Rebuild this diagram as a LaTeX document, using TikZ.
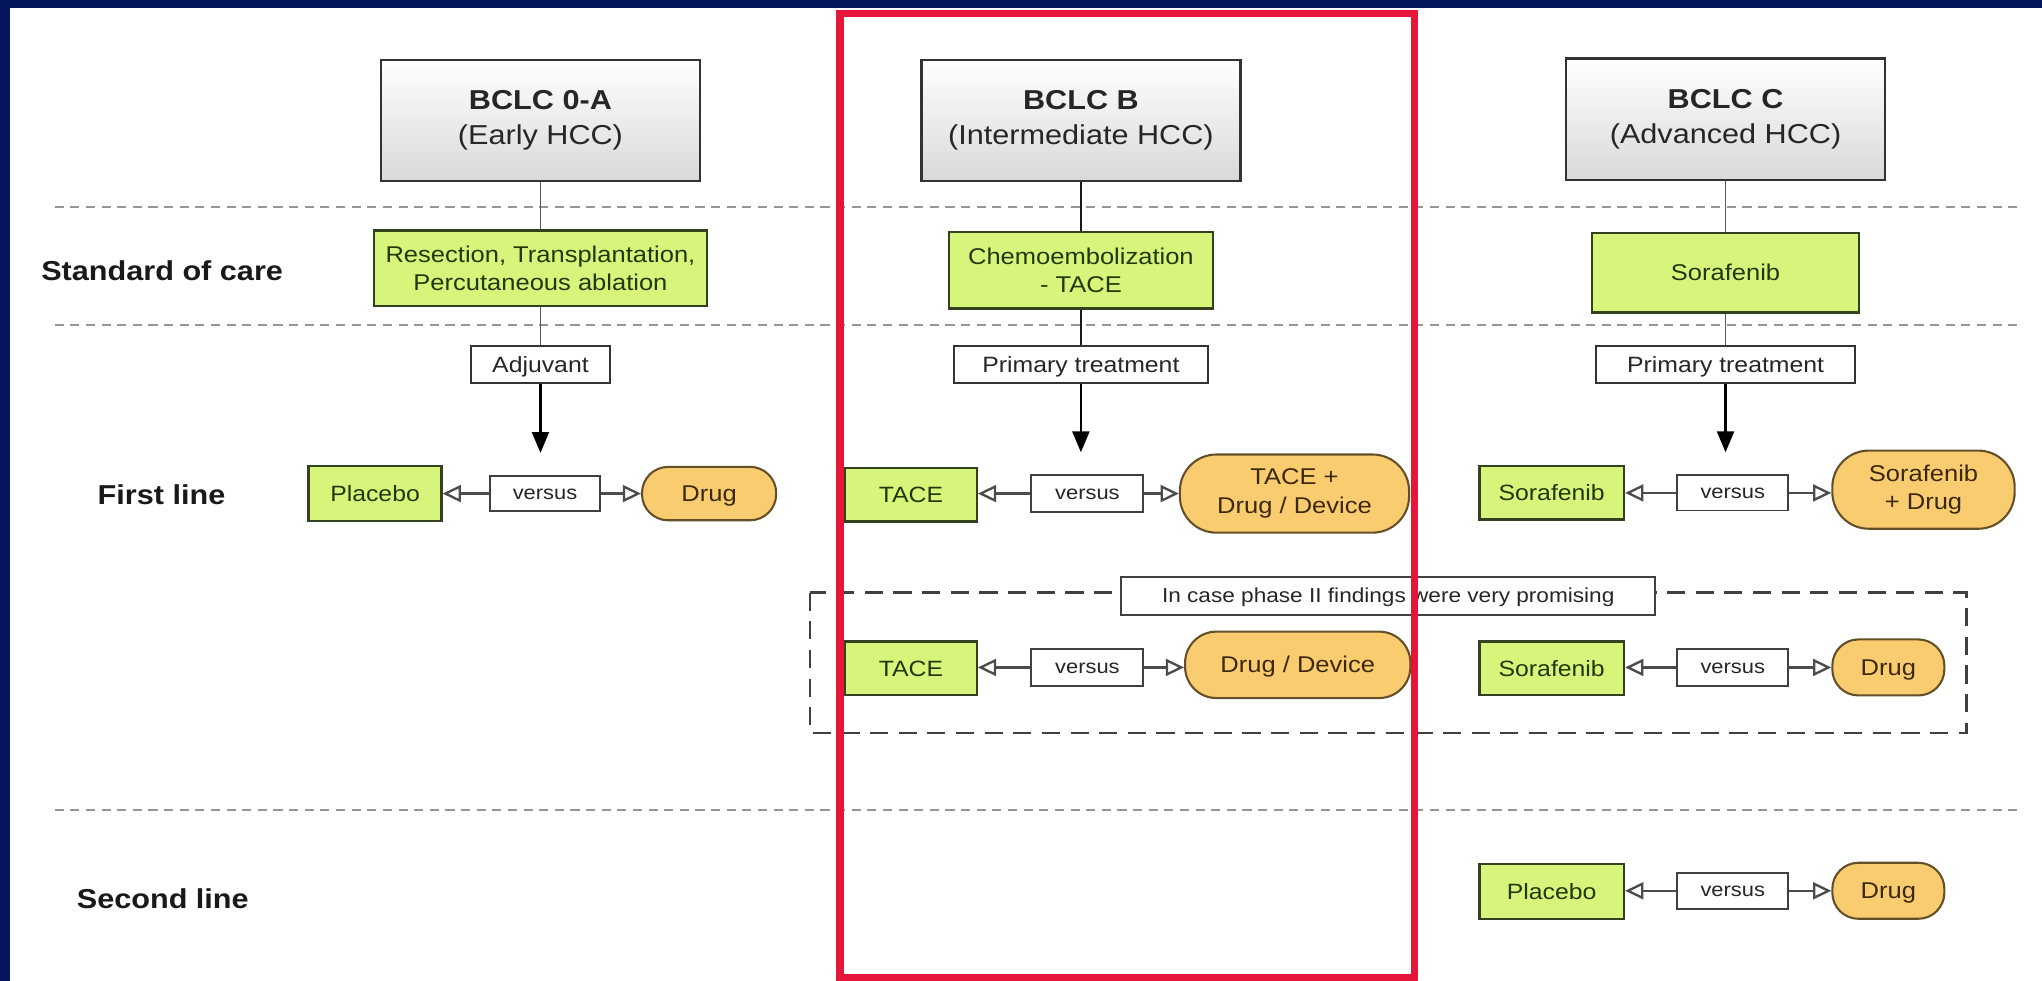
\documentclass[tikz,border=0pt]{standalone}
\usepackage{fontspec}
\setmainfont{Liberation Sans}[FakeStretch=1.12]
\usetikzlibrary{arrows.meta}
\definecolor{navy}{RGB}{5,22,95}
\definecolor{redframe}{RGB}{230,22,58}
\definecolor{limefill}{RGB}{214,245,122}
\definecolor{limedraw}{RGB}{50,65,30}
\definecolor{limetext}{RGB}{35,55,10}
\definecolor{orgfill}{RGB}{250,204,112}
\definecolor{orgdraw}{RGB}{100,80,40}
\definecolor{orgtext}{RGB}{60,40,10}
\definecolor{dashgray}{RGB}{150,150,150}
\begin{document}
\begin{tikzpicture}[x=1pt,y=-1pt,
  hdr/.style={draw=black!80, line width=1.8pt, top color=white, bottom color=black!15,
    minimum width=245pt, minimum height=93pt, inner sep=0pt, align=center,
    text=black!85, font=\fontsize{21}{27}\selectfont},
  soc/.style={draw=limedraw, fill=limefill, line width=1.8pt, inner sep=0pt, align=center,
    text=limetext, font=\fontsize{17.5}{22}\selectfont},
  one/.style={text height=12.3pt, text depth=0pt},
  lbl/.style={draw=black!80, fill=white, line width=1.5pt, minimum height=28pt, inner sep=0pt,
    text=black!85, font=\fontsize{17}{20}\selectfont, one},
  rowlbl/.style={font=\bfseries\fontsize{21}{25}\selectfont, text=black!90},
  grn/.style={draw=limedraw, fill=limefill, line width=1.8pt, inner sep=0pt,
    minimum height=41pt, text=limetext, font=\fontsize{17}{21}\selectfont, one},
  org/.style={draw=orgdraw, fill=orgfill, line width=1.6pt, inner sep=0pt, align=center,
    text=orgtext, font=\fontsize{17.5}{22}\selectfont},
  vs/.style={draw=black!75, fill=white, line width=1.5pt, inner sep=0pt, minimum width=85pt,
    minimum height=27pt, text=black!85, font=\fontsize{15}{18}\selectfont, text height=9pt, text depth=0pt},
  vsarrow/.style={draw=black!70, line width=1.8pt, -{Triangle[open,length=14pt,width=13pt]}},
  downarrow/.style={draw=black, line width=1.8pt, -{Triangle[length=16pt,width=13pt]}, shorten >=17pt},
  vline/.style={draw=black!65, line width=1.4pt},
  hdash/.style={draw=dashgray, line width=2pt, dash pattern=on 7pt off 5pt},
  boxdash/.style={draw=black!75, line width=1.8pt, dash pattern=on 14pt off 8pt}
]
\useasboundingbox (0,0) rectangle (1568,753);
\fill[white] (0,0) rectangle (1568,753);
\fill[navy] (0,0) rectangle (1568,6);
\fill[navy] (0,0) rectangle (8,753);

% horizontal dashed separators
\draw[hdash] (42,159) -- (1550,159);
\draw[hdash] (42,249.5) -- (1550,249.5);
\draw[hdash] (42,622) -- (1550,622);

% row labels
\node[rowlbl] (rSOC) at (124.5,208) {Standard of care};
\node[rowlbl] (rFL) at (124,380) {First line};
\node[rowlbl] (rSL) at (125,690) {Second line};

% headers
\node[hdr] (hA) at (415,92.5) {\textbf{BCLC 0-A}\\(Early HCC)};
\node[hdr] (hB) at (830,92.5) {\textbf{BCLC B}\\(Intermediate HCC)};
\node[hdr] (hC) at (1325,91.5) {\textbf{BCLC C}\\(Advanced HCC)};

% standard of care
\node[soc, minimum width=256pt, minimum height=58pt] (sA) at (415,206) {Resection, Transplantation,\\Percutaneous ablation};
\node[soc, minimum width=203pt, minimum height=59pt] (sB) at (830,207.5) {Chemoembolization\\- TACE};
\node[soc, one, minimum width=205pt, minimum height=61pt] (sC) at (1325,209.5) {Sorafenib};

% treatment labels
\node[lbl, minimum width=107pt] (lA) at (415,280) {Adjuvant};
\node[lbl, minimum width=195pt] (lB) at (830,280) {Primary treatment};
\node[lbl, minimum width=199pt] (lC) at (1325,280) {Primary treatment};

% vertical connectors
\draw[vline] (hA.south) -- (sA.north);
\draw[vline] (sA.south) -- (lA.north);
\draw[vline, draw=black!90] (hB.south) -- (sB.north);
\draw[vline, draw=black!90] (sB.south) -- (lB.north);
\draw[vline] (hC.south) -- (sC.north);
\draw[vline] (sC.south) -- (lC.north);

% first line, column A
\node[grn, minimum width=102pt, minimum height=42pt] (pA) at (288,379) {Placebo};
\node[vs] (vA) at (418.5,379) {versus};
\node[org, one, minimum width=103pt, minimum height=41pt, rounded corners=20pt] (dA) at (544.5,379) {Drug};

% first line, column B
\node[grn, minimum width=101pt] (tB) at (699.5,380) {TACE};
\node[vs, minimum width=86pt, minimum height=28pt] (vB) at (835,379) {versus};
\node[org, minimum width=176pt, minimum height=60pt, rounded corners=28pt] (dB) at (994,379) {TACE +\\Drug / Device};

% first line, column C
\node[grn, minimum width=111pt] (sfC) at (1191.5,378.5) {Sorafenib};
\node[vs] (vC) at (1330.5,378.5) {versus};
\node[org, minimum width=140pt, minimum height=60pt, rounded corners=28pt] (dC) at (1477,376) {Sorafenib\\+ Drug};

% down arrows
\draw[downarrow] (lA.south) -- (lA.south |- vA.north);
\draw[downarrow] (lB.south) -- (lB.south |- vB.north);
\draw[downarrow] (lC.south) -- (lC.south |- vC.north);

% versus connectors, first line
\draw[vsarrow] (vA.west) -- (vA.west -| pA.east);
\draw[vsarrow] (vA.east) -- (vA.east -| dA.west);
\draw[vsarrow] (vB.west) -- (vB.west -| tB.east);
\draw[vsarrow] (vB.east) -- (vB.east -| dB.west);
\draw[vsarrow] (vC.west) -- (vC.west -| sfC.east);
\draw[vsarrow] (vC.east) -- (vC.east -| dC.west);

% dashed box (phase II)
\draw[boxdash] (622,455) rectangle (1510,563);
\node[draw=black!75, fill=white, line width=1.5pt, minimum width=410pt, minimum height=29pt, inner sep=0pt,
  text=black!85, font=\fontsize{15.5}{18}\selectfont, text height=11pt, text depth=1pt] (ph) at (1066,457.5) {In case phase II findings were very promising};

\node[grn, minimum width=101pt] (tB2) at (699.5,513) {TACE};
\node[vs, minimum width=86pt, minimum height=29pt] (vB2) at (835,512.5) {versus};
\node[org, one, minimum width=173pt, minimum height=51pt, rounded corners=24pt] (dB2) at (996.5,510.5) {Drug / Device};

\node[grn, minimum width=111pt] (sfC2) at (1191.5,513) {Sorafenib};
\node[vs, minimum height=28pt] (vC2) at (1330.5,512.5) {versus};
\node[org, one, minimum width=86pt, minimum height=43pt, rounded corners=20pt] (dC2) at (1450,512.5) {Drug};

\draw[vsarrow] (vB2.west) -- (vB2.west -| tB2.east);
\draw[vsarrow] (vB2.east) -- (vB2.east -| dB2.west);
\draw[vsarrow] (vC2.west) -- (vC2.west -| sfC2.east);
\draw[vsarrow] (vC2.east) -- (vC2.east -| dC2.west);

% second line
\node[grn, minimum width=111pt, minimum height=42pt] (pC3) at (1191.5,684.5) {Placebo};
\node[vs, minimum height=28pt] (vC3) at (1330.5,684) {versus};
\node[org, one, minimum width=86pt, minimum height=43pt, rounded corners=20pt] (dC3) at (1450,684) {Drug};

\draw[vsarrow] (vC3.west) -- (vC3.west -| pC3.east);
\draw[vsarrow] (vC3.east) -- (vC3.east -| dC3.west);

% red highlight frame
\draw[draw=redframe, line width=5.5pt] (645,10.5) rectangle (1086,750.5);
\end{tikzpicture}
\end{document}
